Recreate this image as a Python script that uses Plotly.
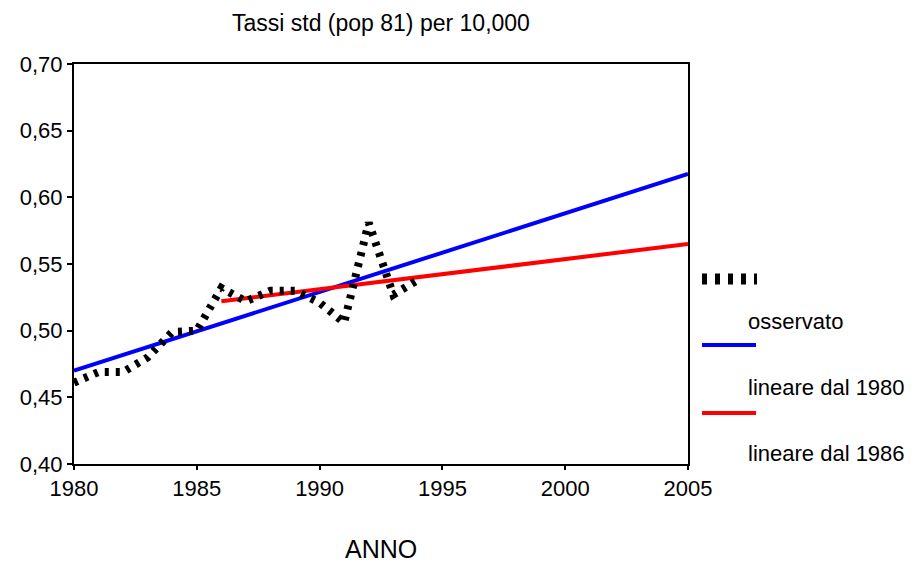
import plotly.graph_objects as go

years_obs = [1980, 1981, 1982, 1983, 1984, 1985, 1986, 1987, 1988, 1989, 1990, 1991, 1992, 1993, 1994]
observed = [0.461, 0.469, 0.469, 0.480, 0.499, 0.500, 0.532, 0.522, 0.530, 0.530, 0.521, 0.506, 0.581, 0.527, 0.538]

years_lin80 = [1980, 2005]
lin80 = [0.470, 0.6175]

years_lin86 = [1986, 2005]
lin86 = [0.522, 0.565]

legend_labels = ["osservato", "lineare dal 1980", "lineare dal 1986"]
x_ticks = [1980, 1985, 1990, 1995, 2000, 2005]
y_ticks = [0.40, 0.45, 0.50, 0.55, 0.60, 0.65, 0.70]

FONT = "Liberation Sans, Arial, sans-serif"

fig = go.Figure()
fig.add_trace(go.Scatter(x=years_lin80, y=lin80, mode="lines",
                         line=dict(color="#0000ff", width=4), showlegend=False))
fig.add_trace(go.Scatter(x=years_lin86, y=lin86, mode="lines",
                         line=dict(color="#ff0000", width=4), showlegend=False))
fig.add_trace(go.Scatter(x=years_obs, y=observed, mode="lines",
                         line=dict(color="black", width=8, dash="4px,7px"), showlegend=False))

# page body has an 8px margin; work in window pixels and convert
OFF = 8
W, H = 915 - 2 * OFF, 573 - 2 * OFF
PL, PT, PR, PB = 74, 64, 688, 464  # plot area in window pixels
L, T = PL - OFF, PT - OFF
R = W - (PR - OFF)
B = H - (PB - OFF)
pw, ph = PR - PL, PB - PT

def px(X):
    return (X - PL) / pw

def py(Y):
    return (PB - Y) / ph

shapes = [
    dict(type="line", xref="paper", yref="paper", x0=px(702), x1=px(757), y0=py(279), y1=py(279),
         line=dict(color="black", width=11, dash="5px,8px")),
    dict(type="line", xref="paper", yref="paper", x0=px(702), x1=px(756), y0=py(345), y1=py(345),
         line=dict(color="#0000ff", width=4)),
    dict(type="line", xref="paper", yref="paper", x0=px(702), x1=px(756), y0=py(413), y1=py(413),
         line=dict(color="#ff0000", width=4)),
]

annotations = [
    dict(text="Tassi std (pop 81) per 10,000", xref="paper", yref="paper", x=0.5, y=py(23),
         xanchor="center", yanchor="middle", showarrow=False, font=dict(size=23, color="black", family=FONT)),
    dict(text="ANNO", xref="paper", yref="paper", x=0.5, y=py(549),
         xanchor="center", yanchor="middle", showarrow=False, borderpad=0,
         font=dict(size=25, color="black", family=FONT)),
]
for lab, yy in zip(legend_labels, [321, 387, 453]):
    annotations.append(dict(text=lab, xref="paper", yref="paper", x=px(746), y=py(yy),
                            xanchor="left", yanchor="middle", showarrow=False,
                            font=dict(size=22, color="black", family=FONT)))

fig.update_layout(
    width=W, height=H,
    margin=dict(l=L, r=R, t=T, b=B, pad=0),
    paper_bgcolor="white", plot_bgcolor="white",
    separators=",.",
    showlegend=False,
    shapes=shapes,
    annotations=annotations,
    font=dict(family=FONT, color="black", size=22),
    xaxis=dict(range=[1980, 2005], tickvals=x_ticks, ticks="outside", ticklen=4, tickwidth=2,
               tickcolor="black", showline=True, linecolor="black", linewidth=2, mirror=True,
               showgrid=False, zeroline=False, tickfont=dict(size=22, family=FONT)),
    yaxis=dict(range=[0.40, 0.70], tickvals=y_ticks, tickformat=".2f", ticks="outside", ticklen=5,
               tickwidth=2, tickcolor="black", showline=True, linecolor="black", linewidth=2,
               mirror=True, showgrid=False, zeroline=False, tickfont=dict(size=22, family=FONT)),
)

fig.write_html("out.html")
